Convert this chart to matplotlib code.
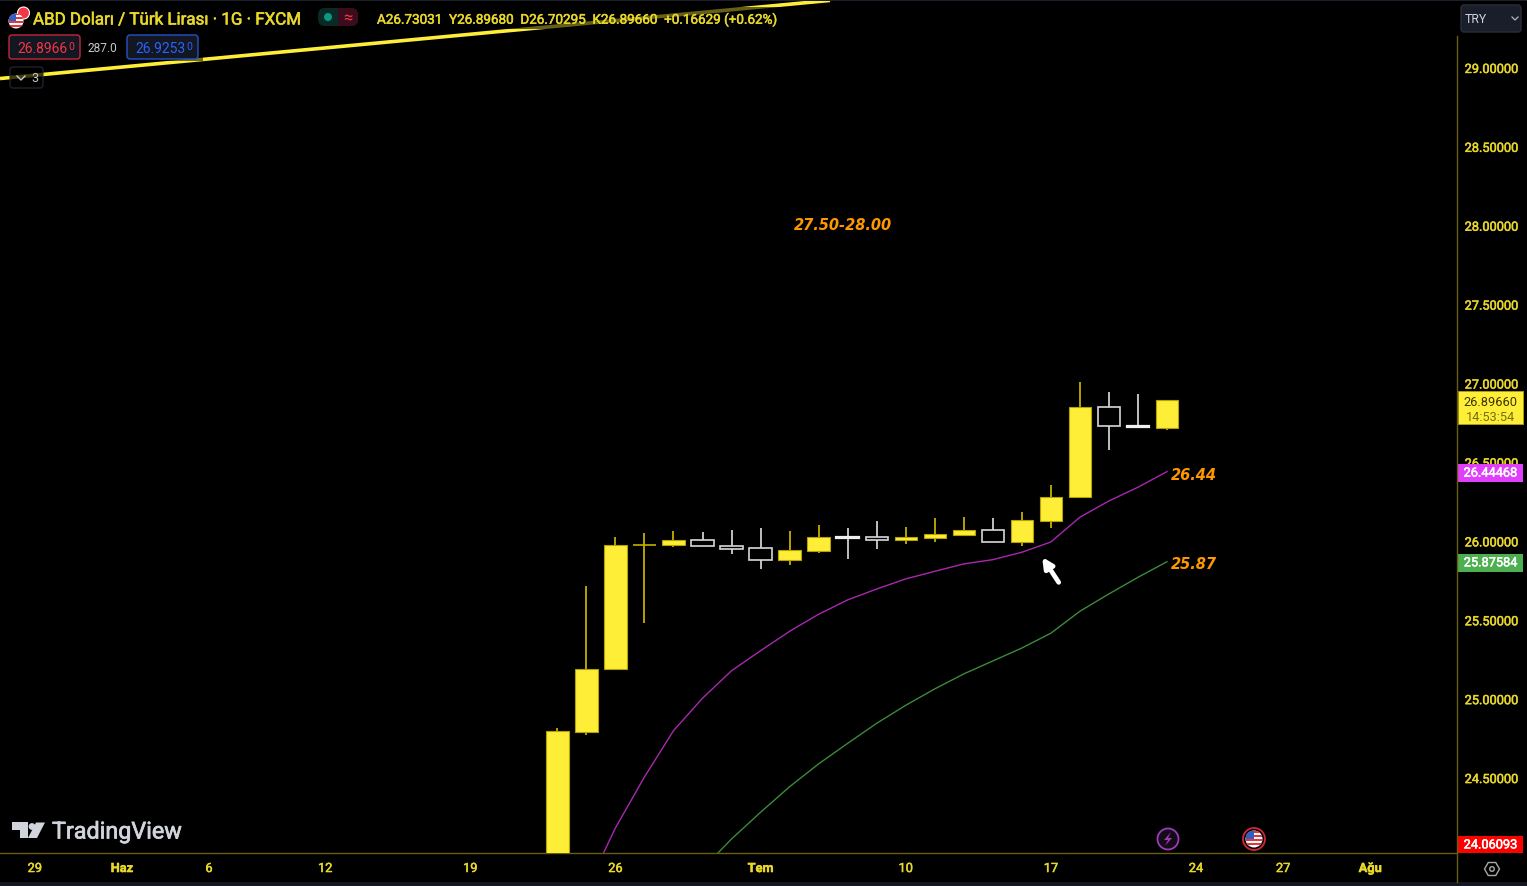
import numpy as np
import matplotlib
matplotlib.use("Agg")
import matplotlib.pyplot as plt
import matplotlib.patheffects as pe
from matplotlib.patches import Rectangle, FancyBboxPatch, Circle, Polygon, RegularPolygon

plt.rcParams['font.family'] = ['Roboto', 'DejaVu Sans']

# Configuration
W, H = 1527, 887
YELLOW = "#ffee38"
TEXT_YELLOW = "#e8d82a"
ORANGE = "#ff9800"
PANEL = "#131722"

# Candles, bar index 0 is 26 Haz
days = list(range(-2, 20))
opens = [23.90, 24.79, 25.19, 25.98, 25.975, 26.01, 25.97, 25.956, 25.88, 25.941, 26.026, 26.026, 26.009,
         26.022, 26.042, 26.072, 25.994, 26.129, 26.279, 26.852, 26.729, 26.719]
highs = [24.82, 25.72, 26.03, 26.05, 26.066, 26.06, 26.074, 26.087, 26.066, 26.102, 26.087, 26.127, 26.093,
         26.148, 26.155, 26.148, 26.188, 26.357, 27.008, 26.949, 26.934, 26.897]
lows = [23.80, 24.77, 25.19, 25.485, 25.966, 25.97, 25.92, 25.825, 25.852, 25.926, 25.888, 25.954, 25.985,
        25.994, 26.042, 25.994, 25.973, 26.083, 26.279, 26.577, 26.726, 26.703]
closes = [24.80, 25.19, 25.98, 25.98, 26.01, 25.97, 25.954, 25.88, 25.944, 26.026, 26.022, 26.009, 26.026,
          26.045, 26.072, 25.994, 26.134, 26.283, 26.854, 26.729, 26.726, 26.8966]

# Moving averages
ema_fast_days = list(range(-1, 20))
ema_fast = [23.797, 24.184, 24.507, 24.80, 25.006, 25.18, 25.307, 25.43, 25.538, 25.629, 25.698, 25.762,
            25.81, 25.857, 25.884, 25.931, 25.996, 26.153, 26.256, 26.343, 26.442]
ema_slow_days = list(range(3, 20))
ema_slow = [23.924, 24.114, 24.283, 24.445, 24.59, 24.72, 24.847, 24.961, 25.065, 25.16, 25.242, 25.324,
            25.418, 25.557, 25.667, 25.772, 25.871]

# Long trend line in the corner
trend_days = [-21.2, 7.39]
trend_prices = [28.933, 29.428]

# Axis labels
price_ticks = [24.5, 25.0, 25.5, 26.0, 26.5, 27.0, 27.5, 28.0, 28.5, 29.0]
date_ticks = [-20, -17, -14, -10, -5, 0, 5, 10, 15, 20, 23, 26]
date_labels = ["29", "Haz", "6", "12", "19", "26", "Tem", "10", "17", "24", "27", "Ağu"]
month_labels = ["Haz", "Tem", "Ağu"]

# a thin stroke, the reference text is a bit heavier than regular
heavy = [pe.withStroke(linewidth=0.35, foreground=TEXT_YELLOW)]

fig = plt.figure(figsize=(W / 100, H / 100), dpi=100, facecolor="black")
ax = fig.add_axes([0, (H - 854) / H, 1457 / W, 854 / H], facecolor="black")
ax.set_xlim(-21.2, 28.99)
ax.set_ylim(24.025, 29.437)

for side in ["left", "top", "right"]:
    ax.spines[side].set_visible(False)
ax.spines["bottom"].set_color("#6b5d10")
ax.spines["bottom"].set_linewidth(1.0)

ax.yaxis.tick_right()
ax.set_yticks(price_ticks)
ax.set_yticklabels([f"{p:.5f}" for p in price_ticks])
ax.tick_params(axis="y", length=0, pad=5.5, labelsize=9.2, labelcolor=TEXT_YELLOW)
for lab in ax.get_yticklabels():
    lab.set_path_effects(heavy)
    lab.set_verticalalignment("center_baseline")
ax.set_xticks(date_ticks)
ax.set_xticklabels(date_labels)
ax.tick_params(axis="x", length=0, pad=6.5, labelsize=9.2, labelcolor=TEXT_YELLOW)
for lab in ax.get_xticklabels():
    lab.set_path_effects(heavy)
    if lab.get_text() in month_labels:
        lab.set_fontweight("bold")

# Candles
for d, o, h, l, c in zip(days, opens, highs, lows, closes):
    up = c >= o
    wick = "#c4b000" if up else "#cfcfcf"
    ax.vlines(d, l, h, color=wick, linewidth=1.3, zorder=2)
    flat = abs(c - o) < 0.005
    if up:
        ax.bar(d, c - o, bottom=o, width=0.77, color=YELLOW, edgecolor="#c4b000" if flat else "#b5a300",
               linewidth=1.2 if flat else 0.8, zorder=3)
    else:
        ax.bar(d, c - o, bottom=o, width=0.77, color="black", edgecolor="#f0f0f0" if flat else "#d8d8d8",
               linewidth=1.6 if flat else 1.2, zorder=3)

ax.plot(ema_fast_days, ema_fast, color="#a828b0", linewidth=1.0, zorder=2)
ax.plot(ema_slow_days, ema_slow, color="#3c8a3c", linewidth=1.0, zorder=2)
ax.plot(trend_days, trend_prices, color=YELLOW, linewidth=2.6, zorder=2, solid_capstyle="butt")

# Notes drawn on the chart
note_font = dict(family="DejaVu Sans", fontsize=10.5, fontweight="bold", fontstyle="italic", color=ORANGE, va="center_baseline")
ax.text(19.13, 26.43, "26.44", **note_font)
ax.text(19.13, 25.872, "25.87", **note_font)
ax.text(6.15, 28.018, "27.50-28.00", **note_font)
ax.annotate("", xy=(14.70, 25.90), xytext=(15.27, 25.74),
            arrowprops=dict(arrowstyle="-|>", color="white", lw=3.4, mutation_scale=15, shrinkA=0, shrinkB=0))


# Price tags on the right scale
def price_tag(price, label, bg, fg="white", height=18, shift=0.0):
    tr = ax.get_yaxis_transform()
    h = height / 157.8
    ax.add_patch(Rectangle((1.0004, price + shift - h / 2), 65.5 / 1457, h, transform=tr, facecolor=bg,
                           edgecolor="none", clip_on=False, zorder=6))
    t = ax.text(1.0004 + 33 / 1457, price + shift, label, transform=tr, color=fg, fontsize=9.2,
                ha="center", va="center", clip_on=False, zorder=7)
    t.set_path_effects([pe.withStroke(linewidth=0.35, foreground=fg)])


price_tag(26.44468, "26.44468", "#e040fb", shift=-0.012)
price_tag(25.87584, "25.87584", "#4caf50", shift=-0.012)
price_tag(24.06093, "24.06093", "#ff0000", height=17, shift=0.015)
tr = ax.get_yaxis_transform()
ax.add_patch(Rectangle((1.0004, 26.8966 - 24 / 157.8), 65.5 / 1457, 33 / 157.8, transform=tr, facecolor=YELLOW,
                       edgecolor="#b5a300", linewidth=0.6, clip_on=False, zorder=6))
ax.text(1.0004 + 33 / 1457, 26.8966 - 1.5 / 157.8, "26.89660", transform=tr, color="#3a3500", fontsize=9.2,
        ha="center", va="center", clip_on=False, zorder=7)
ax.text(1.0004 + 33 / 1457, 26.8966 - 16.5 / 157.8, "14:53:54", transform=tr, color="#75700f", fontsize=9.2,
        ha="center", va="center", clip_on=False, zorder=7)

# Everything around the chart goes on a layer in pixel units
ov = fig.add_axes([0, 0, 1, 1], facecolor="none")
ov.set_xlim(0, W)
ov.set_ylim(H, 0)
ov.axis("off")

ov.add_patch(Rectangle((0, 0), W, 1.5, facecolor="#1c202c", edgecolor="none"))
ov.add_patch(Rectangle((0, 883), W, 4, facecolor=PANEL, edgecolor="none"))
ov.plot([1457, 1457], [37, 883], color="#6b5d10", linewidth=1.0)

# Legend backgrounds dim the trend line
ov.add_patch(Rectangle((480, 8), 310, 22, facecolor="black", alpha=0.6, edgecolor="none"))
ov.add_patch(Rectangle((5, 34), 198, 28, facecolor="black", alpha=0.55, edgecolor="none"))


def flag(cx, cy, r):
    disc = Circle((cx, cy), r, facecolor="white", edgecolor="none", zorder=5)
    ov.add_patch(disc)
    for k in range(4):
        s = Rectangle((cx - r, cy - r + k * r * 0.5), 2 * r, r * 0.26, facecolor="#e0383e", edgecolor="none", zorder=5)
        ov.add_patch(s)
        s.set_clip_path(disc)
    c = Rectangle((cx - r, cy - r), r, r, facecolor="#2d5fc4", edgecolor="none", zorder=5)
    ov.add_patch(c)
    c.set_clip_path(disc)


# Header
ov.add_patch(Circle((23.5, 14), 6, facecolor="#f23645", edgecolor="white", linewidth=0.8))
flag(16, 22, 7.5)
ov.text(33, 21, "ABD Doları / Türk Lirası · 1G · FXCM", color=TEXT_YELLOW, fontsize=12.2, va="center",
        path_effects=[pe.withStroke(linewidth=0.4, foreground=TEXT_YELLOW)])
ov.add_patch(FancyBboxPatch((318, 9), 40, 18, boxstyle="round,pad=0,rounding_size=7", facecolor="#0b2a26", edgecolor="none"))
right_pill = FancyBboxPatch((318, 9), 40, 18, boxstyle="round,pad=0,rounding_size=7", facecolor="#3a0c1c", edgecolor="none")
ov.add_patch(right_pill)
right_pill.set_clip_path(Rectangle((338, 9), 20, 18, transform=ov.transData))
ov.add_patch(Circle((328, 18), 4, facecolor="#089981", edgecolor="none"))
ov.text(347.5, 18, "≈", color="#f23645", fontsize=12, ha="center", va="center")
ov.text(377, 21, "A26.73031  Y26.89680  D26.70295  K26.89660  +0.16629 (+0.62%)", color=TEXT_YELLOW, fontsize=9.7,
        va="center", path_effects=heavy)

# Buy and sell boxes
ov.add_patch(FancyBboxPatch((9, 36), 71, 24, boxstyle="round,pad=0,rounding_size=3", facecolor=PANEL, edgecolor="#c2283a", linewidth=1.0))
ov.text(17, 49, "26.8966", color="#f23645", fontsize=10, va="center")
ov.text(68.5, 46.5, "0", color="#f23645", fontsize=7.5, va="center")
ov.text(88, 48.5, "287.0", color="#c8c8c8", fontsize=8.6, va="center")
ov.add_patch(FancyBboxPatch((127, 36), 71, 24, boxstyle="round,pad=0,rounding_size=3", facecolor=PANEL, edgecolor="#2452c8", linewidth=1.0))
ov.text(135, 49, "26.9253", color="#2962ff", fontsize=10, va="center")
ov.text(186.5, 46.5, "0", color="#2962ff", fontsize=7.5, va="center")
ov.add_patch(FancyBboxPatch((10, 68), 33, 21, boxstyle="round,pad=0,rounding_size=3", facecolor="black", alpha=0.75, edgecolor="#2a2e39", linewidth=1.0))
ov.plot([17, 21, 25], [77, 81, 77], color="#c8c8c8", linewidth=1.0)
ov.text(31, 79, "3", color="#c8c8c8", fontsize=9, va="center")

# Currency button
ov.add_patch(FancyBboxPatch((1461, 6), 60, 27, boxstyle="round,pad=0,rounding_size=3", facecolor="#1a1e2a", edgecolor="#2a2e39", linewidth=1.0))
ov.text(1465, 19.5, "TRY", color="#d1d4dc", fontsize=8.8, va="center")
ov.plot([1512, 1515, 1518], [18, 21, 18], color="#b2b5be", linewidth=0.9)

# Logo
ov.add_patch(Polygon([(12, 823.5), (28, 823.5), (28, 839), (20, 839), (20, 831), (12, 831)], facecolor="#d1d4dc", edgecolor="none"))
ov.add_patch(Circle((32, 827.5), 3.4, facecolor="#d1d4dc", edgecolor="none"))
ov.add_patch(Polygon([(36, 823.5), (45, 823.5), (37, 839), (28, 839)], facecolor="#d1d4dc", edgecolor="none"))
ov.text(52, 833, "TradingView", color="#d1d4dc", fontsize=16.8, va="center",
        path_effects=[pe.withStroke(linewidth=0.5, foreground="#d1d4dc")])

# Event markers
ov.add_patch(Circle((1168, 840), 10.5, facecolor="#140a18", edgecolor="#9c3cb8", linewidth=1.3))
ov.add_patch(Polygon([(1171, 833), (1164, 841), (1168, 841), (1165, 847), (1172, 839), (1168, 839)], facecolor="#9c3cb8", edgecolor="none"))
ov.add_patch(Circle((1254, 840), 11, facecolor="black", edgecolor="#d0283a", linewidth=1.3))
flag(1254, 840, 8.5)

# Settings icon
ov.add_patch(RegularPolygon((1492, 870), 6, radius=7.5, orientation=np.pi / 2, facecolor="none", edgecolor="#a8a8a8", linewidth=1.0))
ov.add_patch(Circle((1492, 870), 2.3, facecolor="none", edgecolor="#a8a8a8", linewidth=1.0))

plt.savefig("out.png", dpi=100, facecolor="black")
